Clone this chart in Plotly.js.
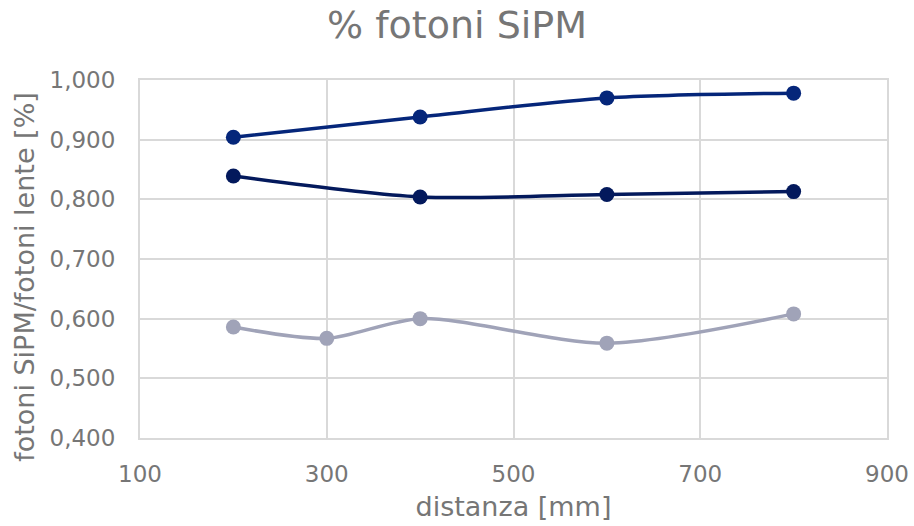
<!DOCTYPE html>
<html>
<head>
<meta charset="utf-8">
<script src="https://cdn.plot.ly/plotly-3.0.1.min.js"></script>
<style>html,body{margin:0;padding:0;background:#fff;}#chart{width:914px;height:526px;}</style>
</head>
<body>
<div id="chart"></div>
<script>
const xA = [200, 400, 600, 800];
const yA = [0.904, 0.938, 0.970, 0.978];
const xB = [200, 400, 600, 800];
const yB = [0.839, 0.804, 0.808, 0.813];
const xC = [200, 300, 400, 600, 800];
const yC = [0.586, 0.567, 0.600, 0.559, 0.608];
const xTicks = [100, 300, 500, 700, 900];
const yTicks = [0.4, 0.5, 0.6, 0.7, 0.8, 0.9, 1.0];
const yTickText = ['0,400', '0,500', '0,600', '0,700', '0,800', '0,900', '1,000'];

const FONT = 'DejaVu Sans, Verdana, sans-serif';
const GRAY = '#767676';
const GRID = '#d9d9d9';

function series(x, y, color) {
  return {
    x: x, y: y, type: 'scatter', mode: 'lines+markers',
    line: {color: color, width: 3.5, shape: 'spline', smoothing: 0.8},
    marker: {color: color, size: 15},
    hoverinfo: 'x+y', showlegend: false
  };
}

const data = [
  series(xC, yC, '#a0a3b8'),
  series(xB, yB, '#03195c'),
  series(xA, yA, '#05267a')
];

const layout = {
  width: 914, height: 526,
  margin: {l: 140, r: 27, t: 80, b: 88},
  paper_bgcolor: '#fff', plot_bgcolor: '#fff',
  font: {family: FONT, color: GRAY},
  title: {text: '% fotoni SiPM', font: {family: FONT, size: 38, color: GRAY}, x: 0.5, xanchor: 'center', y: 0.953, yanchor: 'middle'},
  xaxis: {
    range: [100, 900], tickvals: xTicks, ticktext: xTicks.map(String),
    showgrid: true, gridcolor: GRID, gridwidth: 2,
    showline: true, linecolor: GRID, linewidth: 2, mirror: true,
    zeroline: false, ticks: '', ticklabelstandoff: 14,
    tickfont: {family: FONT, size: 23, color: GRAY},
    title: {text: 'distanza [mm]', font: {family: FONT, size: 27, color: GRAY}, standoff: 12}
  },
  yaxis: {
    range: [0.4, 1.0], tickvals: yTicks, ticktext: yTickText,
    showgrid: true, gridcolor: GRID, gridwidth: 2,
    showline: true, linecolor: GRID, linewidth: 2, mirror: true,
    zeroline: false, ticks: '', ticklabelstandoff: 18,
    tickfont: {family: FONT, size: 23, color: GRAY}
  },
  annotations: [{
    text: 'fotoni SiPM/fotoni lente [%]', xref: 'paper', yref: 'paper',
    x: -0.154, y: 0.45, xanchor: 'center', yanchor: 'middle', textangle: -90,
    showarrow: false, font: {family: FONT, size: 27, color: GRAY}
  }]
};

Plotly.newPlot('chart', data, layout, {displayModeBar: false, staticPlot: true});
</script>
</body>
</html>
